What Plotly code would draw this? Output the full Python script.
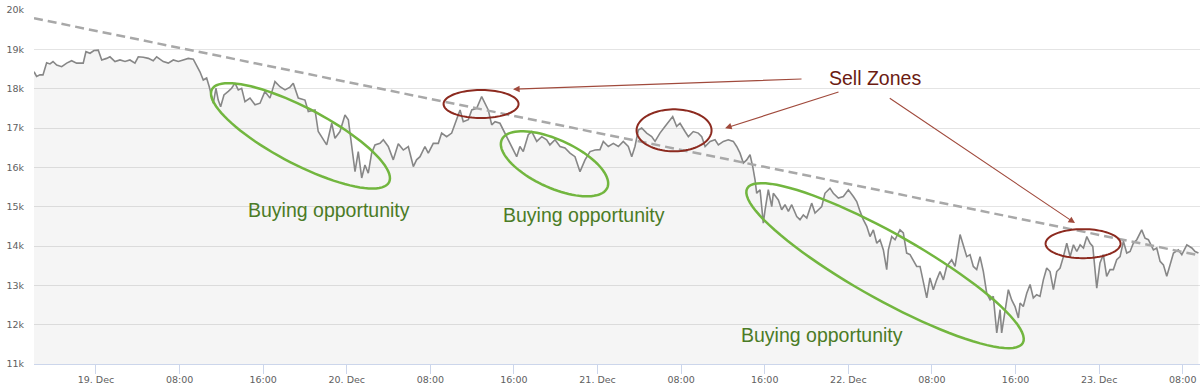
import numpy as np
import pandas as pd
import plotly.graph_objects as go

BASE = pd.Timestamp("2017-12-19 00:00")

# hours after 19 Dec 00:00
hours = [-5.93,-5.68,-5.36,-5.07,-4.72,-4.40,-4.11,-3.76,-3.28,-2.80,-2.33,-1.85,-1.22,
         -0.96,-0.57,-0.19,0.22,0.55,1.02,1.34,1.82,2.30,2.78,3.25,3.73,
         4.05,4.53,5.01,5.48,5.81,6.44,6.92,7.40,7.88,8.35,8.83,9.31,
         9.64,9.95,10.27,10.59,10.84,11.07,11.23,11.48,11.70,11.93,12.25,12.66,12.98,
         13.30,13.62,13.94,14.26,14.74,15.22,15.70,16.17,16.65,17.13,17.61,18.09,18.57,18.88,
         19.36,20.00,20.32,20.96,21.27,21.75,22.08,22.56,22.87,23.35,23.83,24.15,
         24.47,24.79,25.10,25.43,25.74,26.06,26.38,26.70,27.18,27.50,27.97,28.45,28.93,29.41,29.89,
         30.37,30.68,31.01,31.48,31.80,32.28,32.76,33.08,33.56,34.04,34.36,34.84,35.15,35.63,35.96,36.43,
         36.91,37.23,37.54,37.87,38.19,38.66,38.98,39.31,39.78,40.26,40.57,40.89,
         41.37,41.70,42.18,42.66,43.13,43.44,43.93,44.41,44.88,45.36,45.84,46.32,46.80,47.28,47.76,
         48.23,48.55,49.03,49.51,49.99,50.46,50.94,51.27,51.58,51.90,52.22,52.70,53.18,53.50,53.97,54.45,
         54.77,55.19,55.57,55.89,56.37,56.69,57.16,57.64,57.97,58.29,58.77,59.24,59.56,60.04,60.51,60.99,61.31,
         61.63,61.95,62.27,62.59,62.85,63.07,63.23,63.55,63.86,64.03,64.34,64.67,64.82,
         65.30,65.62,65.94,66.26,66.58,67.06,67.37,67.69,68.02,68.49,68.81,69.13,69.45,
         69.76,70.24,70.56,71.04,71.52,72.00,72.48,72.80,73.12,73.43,73.76,74.07,74.39,74.72,75.03,75.35,
         75.67,75.83,76.15,76.47,76.78,76.94,77.26,77.58,77.90,78.22,78.54,78.86,
         79.17,79.50,79.81,80.13,80.45,80.77,81.09,81.41,81.89,82.21,82.69,83.00,83.33,83.64,83.96,84.28,
         84.60,84.92,85.24,85.56,85.87,86.20,86.52,86.67,86.99,87.31,87.63,87.95,88.27,
         88.43,88.74,89.07,89.39,89.70,90.02,90.34,90.66,90.98,91.30,91.62,91.94,92.26,
         92.58,92.90,93.22,93.54,93.86,94.18,94.50,94.82,95.13,95.39,95.77,96.08,96.40,
         96.72,97.04,97.36,97.68,98.00,98.32,98.64,98.96,99.27,99.60,100.07,100.39,100.71,
         101.19,101.51,101.83,102.15,102.47,102.79,103.11,103.58,103.91,104.39,104.87,105.18,105.50]

prices = [18430,18310,18350,18350,18660,18630,18690,18600,18560,18650,18710,18650,18650,
          18940,18900,18970,18980,18730,18770,18810,18690,18730,18690,18730,18650,
          18810,18800,18770,18710,18810,18690,18650,18730,18690,18730,18770,18750,
          18600,18430,18220,18270,18050,17840,17630,18010,17710,17540,17840,17930,18010,
          18140,17970,18010,17670,17760,17590,17630,17930,17760,18180,18050,17970,18040,18140,
          17760,17710,17420,17460,16910,16700,16570,17120,16740,16910,17330,17210,
          16530,15890,16400,15730,16060,15850,16360,16570,16610,16700,16530,16190,16600,16440,16530,
          16020,16190,16270,16530,16360,16610,16610,16870,16780,16870,17120,17460,17160,17210,17460,17500,
          17800,17630,17460,17080,17160,17120,16950,16780,16530,16270,16530,16400,
          16830,16910,16660,16780,16700,16570,16700,16530,16490,16360,16270,15890,16190,16400,16440,
          16450,16660,16530,16610,16530,16660,16530,16270,16530,16950,17000,16870,16780,16660,16870,17040,
          17160,17290,17040,17120,16910,16780,16910,16870,16780,16530,16660,16700,16570,16660,16700,16660,16530,
          16360,16110,16190,16320,16020,15680,15340,15430,14580,14920,15430,15000,15340,
          15170,14920,15050,14880,15050,14750,14670,14790,14710,15090,14840,14920,15000,
          15340,15470,15340,15220,15260,15430,15260,15130,14880,14670,14500,14240,14410,14070,14160,13900,
          13400,13900,14240,14160,14330,14410,14330,13820,13780,13610,13480,13480,
          13060,12680,13190,12890,13140,13350,13140,13480,13650,13480,14290,13990,13730,13780,13480,13400,
          13730,13350,12800,12630,12720,11790,12380,11790,12300,12890,12630,12460,12170,
          12550,12460,12800,13020,12680,12760,12720,13140,13440,13350,12890,13350,13440,
          13730,14070,13730,14030,13860,14030,13950,14240,14070,13990,12930,13570,13780,
          13230,13400,13400,13650,13730,14120,13820,13860,14070,14160,14410,14200,14160,
          13900,13950,13610,13520,13230,13520,13820,13900,13780,14030,13950,13860,13820]

assert len(hours) == len(prices), (len(hours), len(prices))

trend_hours = [-5.93, 105.65]
trend_prices = [19790, 13760]

tick_hours = [0, 8, 16, 24, 32, 40, 48, 56, 64, 72, 80, 88, 96, 104]
tick_labels = ["19. Dec", "08:00", "16:00", "20. Dec", "08:00", "16:00", "21. Dec",
               "08:00", "16:00", "22. Dec", "08:00", "16:00", "23. Dec", "08:00"]

y_ticks = [11000, 12000, 13000, 14000, 15000, 16000, 17000, 18000, 19000, 20000]
y_labels = ["11k", "12k", "13k", "14k", "15k", "16k", "17k", "18k", "19k", "20k"]

x_range_hours = [-5.93, 105.65]

GREEN = "#72b63f"
RED = "#8c2a1f"
GREEN_TXT = "#4b7b26"
RED_TXT = "#6b1b12"
ARROW = "#a04a3c"

# ellipse annotations: (hour, price, semi-major px, semi-minor px, tilt deg, color)
ellipses = [
    (19.57, 16800, 100, 28, 27.7, GREEN),
    (43.88, 16090, 58, 24, 24.6, GREEN),
    (75.51, 13500, 158, 33, 29.3, GREEN),
    (36.85, 17610, 37.5, 14, 0, RED),
    (55.32, 16940, 37.5, 21, 0, RED),
    (94.46, 14060, 37.5, 14.5, 0, RED),
]

texts = [
    (22.3, 14920, "Buying opportunity", GREEN_TXT),
    (46.66, 14780, "Buying opportunity", GREEN_TXT),
    (69.43, 11745, "Buying opportunity", GREEN_TXT),
    (74.55, 18273, "Sell Zones", RED_TXT),
]

# arrows: (tail hour, tail price, head hour, head price)
arrows = [
    (67.66, 18247, 39.91, 17986),
    (71.2, 17925, 60.2, 16995),
    (75.82, 17783, 93.69, 14582),
]


def t(h):
    return BASE + pd.to_timedelta(h, unit="h")


def ts(h):
    return t(h).strftime("%Y-%m-%d %H:%M:%S")


xs = [t(h) for h in hours]

fig = go.Figure()
fig.add_trace(go.Scatter(
    x=xs, y=prices, mode="lines",
    line=dict(color="#878787", width=1.6),
    fill="tozeroy", fillcolor="rgba(0,0,0,0.04)",
    hoverinfo="skip", showlegend=False))
fig.add_trace(go.Scatter(
    x=[t(h) for h in trend_hours], y=trend_prices, mode="lines",
    line=dict(color="#a8a8a8", width=2.5, dash="9px,5px"),
    hoverinfo="skip", showlegend=False))


def ellipse_path(a, b, ang, n=90):
    tt = np.linspace(0, 2 * np.pi, n, endpoint=False)
    th = np.radians(ang)
    ex = a * np.cos(tt) * np.cos(th) - b * np.sin(tt) * np.sin(th)
    ey = -(a * np.cos(tt) * np.sin(th) + b * np.sin(tt) * np.cos(th))
    pts = [f"{x:.2f},{y:.2f}" for x, y in zip(ex, ey)]
    return "M " + " L ".join(pts) + " Z"


for h, p, a, b, ang, col in ellipses:
    fig.add_shape(type="path", xref="x", yref="y",
                  xsizemode="pixel", ysizemode="pixel",
                  xanchor=ts(h), yanchor=p,
                  path=ellipse_path(a, b, ang),
                  line=dict(color=col, width=2.5 if col == GREEN else 2),
                  layer="above")

for h, p, txt, col in texts:
    fig.add_annotation(x=ts(h), y=p, text=txt, showarrow=False,
                       xanchor="center", yanchor="middle",
                       font=dict(family="Liberation Sans, Arial, sans-serif", size=19.5, color=col))

for th_, tp, hh, hp in arrows:
    fig.add_annotation(x=ts(hh), y=hp, ax=ts(th_), ay=tp, axref="x", ayref="y",
                       text="", showarrow=True, arrowhead=2, arrowsize=1.2,
                       arrowwidth=1.1, arrowcolor=ARROW, standoff=0, startstandoff=0)

fig.update_layout(
    width=1200, height=390,
    margin=dict(l=34, r=0, t=10, b=26),
    paper_bgcolor="white", plot_bgcolor="white",
    showlegend=False,
)
fig.update_xaxes(
    range=[t(x_range_hours[0]), t(x_range_hours[1])],
    tickvals=[t(h) for h in tick_hours], ticktext=tick_labels,
    showgrid=False, zeroline=False,
    showline=True, linecolor="#ccd6eb", linewidth=1,
    ticks="outside", ticklen=9, tickcolor="#ccd6eb", tickwidth=1,
    ticklabelstandoff=-2,
    tickfont=dict(family="DejaVu Sans", size=9.5, color="#606060"),
)
fig.update_yaxes(
    range=[11000, 20000],
    tickvals=y_ticks, ticktext=y_labels,
    showgrid=True, gridcolor="#e4e4e4", gridwidth=1,
    zeroline=False, showline=False, ticks="",
    ticklabelstandoff=9,
    tickfont=dict(family="DejaVu Sans", size=9.5, color="#606060"),
)

fig.write_html("out.html",
               config={"displayModeBar": False},
               post_script="document.body.style.margin='0';document.body.style.padding='0';")
